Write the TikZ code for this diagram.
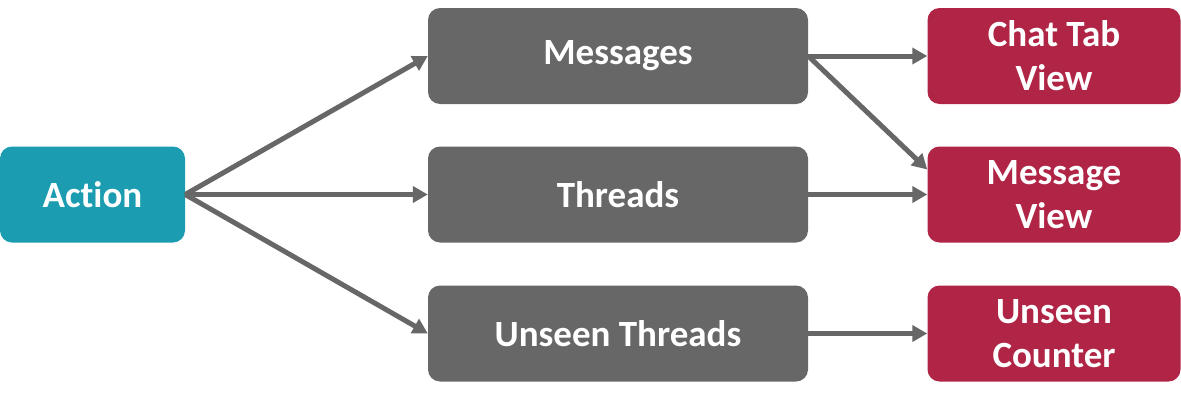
\documentclass[tikz,border=0pt]{standalone}
\usepackage{xcolor}
\usepackage{fontspec}
\setmainfont{Carlito}[Ligatures=NoCommon]
\usepackage{tikz}
\usetikzlibrary{arrows.meta}
\definecolor{actteal}{RGB}{27,156,176}
\definecolor{storegray}{RGB}{103,103,103}
\definecolor{viewred}{RGB}{176,36,70}
\tikzstyle{box}    = [rectangle, rounded corners=12pt, inner sep=0pt, minimum height=96pt, text=white, font=\fontsize{37}{44}\selectfont\bfseries, align=center]
\tikzstyle{action} = [box, minimum width=185pt, fill=actteal]
\tikzstyle{store}  = [box, minimum width=380pt, fill=storegray]
\tikzstyle{view}   = [box, minimum width=253pt, fill=viewred]
\tikzstyle{arrow}  = [line width=5pt, draw=storegray, -{Triangle[length=15pt,width=16pt]}]

\begin{document}
\begin{tikzpicture}[x=1pt, y=-1pt]
    \useasboundingbox (0,0) rectangle (1181,402);
    \node (act)      [action] at (92.5,194.5) {Action};
    \node (msgs)     [store]  at (618,56)     {Messages};
    \node (threads)  [store]  at (618,194.5)  {Threads};
    \node (unseen)   [store]  at (618,333.5)  {Unseen Threads};
    \node (chattab)  [view]   at (1054,56)    {Chat Tab\\View};
    \node (msgview)  [view]   at (1054,194.5) {Message\\View};
    \node (counter)  [view]   at (1054,333.5) {Unseen\\Counter};

    % arrows
    \draw [arrow] (act.east)     -- (msgs.west);
    \draw [arrow] (act.east)     -- (threads.west);
    \draw [arrow] (act.east)     -- (unseen.west);
    \draw [arrow] (msgs.east)    -- (chattab.west);
    \draw [arrow] (msgs.east)    -- ([yshift=25pt]msgview.west);
    \draw [arrow] (threads.east) -- (msgview.west);
    \draw [arrow] (unseen.east)  -- (counter.west);
\end{tikzpicture}
\end{document}
